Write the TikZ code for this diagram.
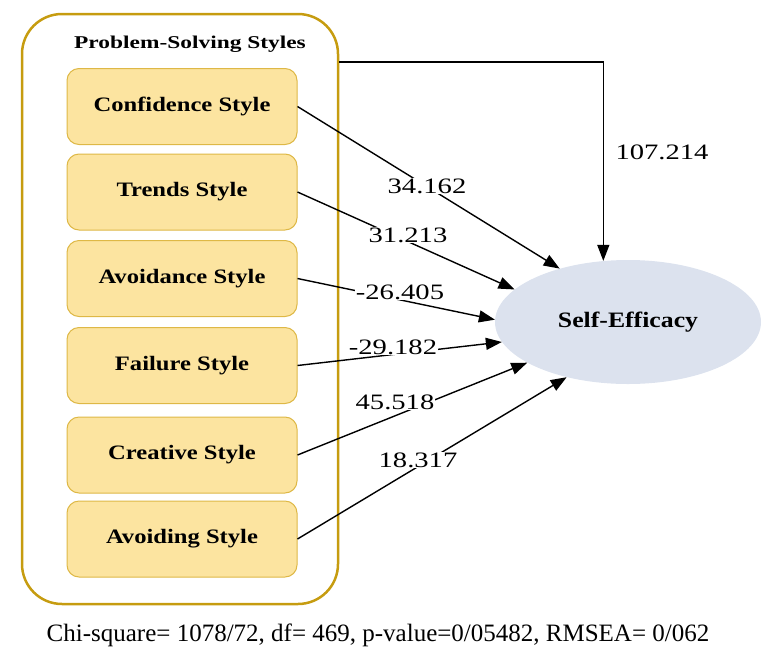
\documentclass[tikz,border=0pt]{standalone}
\usepackage{fontspec}
\setmainfont{Liberation Serif}
\newfontfamily\titlef[FakeStretch=1.3]{Liberation Serif}
\newfontfamily\boxf[FakeStretch=1.2]{Liberation Serif}
\newfontfamily\numf[FakeStretch=1.3]{Liberation Serif}
\newfontfamily\sef[FakeStretch=1.17]{Liberation Serif}
\usetikzlibrary{arrows.meta,shapes.geometric}
\definecolor{goldline}{RGB}{198,156,16}
\definecolor{boxfill}{RGB}{252,228,160}
\definecolor{boxborder}{RGB}{222,184,70}
\definecolor{ellfill}{RGB}{220,226,238}
\tikzset{
  stylebox/.style={rectangle, rounded corners=12pt, minimum width=230pt, minimum height=76pt,
    draw=boxborder, fill=boxfill, line width=1pt, inner sep=0pt,
    font=\boxf\fontsize{20.5}{22}\selectfont\bfseries},
  conn/.style={line width=1.4pt, -{Triangle[length=16pt,width=12pt]}},
  lab/.style={fill=white, inner sep=1pt, font=\numf\fontsize{22}{24}\selectfont}
}
\begin{document}
\begin{tikzpicture}[x=1pt,y=-1pt]
\useasboundingbox (0,0) rectangle (763,646);
% outer group
\node[draw=goldline, line width=2.5pt, rounded corners=40pt, minimum width=316pt, minimum height=590pt, inner sep=0pt] (psb) at (180,309) {};
\node[font=\titlef\fontsize{18}{20}\selectfont\bfseries] (title) at (190,44) {Problem-Solving Styles};
% style boxes
\node[stylebox] (b1) at (182,106.5) {Confidence Style};
\node[stylebox] (b2) at (182,192) {Trends Style};
\node[stylebox] (b3) at (182,278.5) {Avoidance Style};
\node[stylebox] (b4) at (182,365.5) {Failure Style};
\node[stylebox] (b5) at (182,455) {Creative Style};
\node[stylebox] (b6) at (182,539) {Avoiding Style};
% self-efficacy
\node[ellipse, fill=ellfill, minimum width=266pt, minimum height=124pt, inner sep=0pt,
  font=\sef\fontsize{22}{24}\selectfont\bfseries] (se) at (628,322) {Self-Efficacy};
% connectors
\coordinate (c1) at (603,62);
\draw[conn] (psb.east |- c1) -| (se.112.3);
\draw[conn] (b1.east) -- (se.142.6);
\draw[conn] (b2.east) -- (se.164.2);
\draw[conn] (b3.east) -- (se.179);
\draw[conn] (b4.east) -- (se.189.9);
\draw[conn] (b5.east) -- (se.202.6);
\draw[conn] (b6.east) -- (se.222);
% labels
\node[lab] (l0) at (662,152) {107.214};
\node[lab] (l1) at (427,186) {34.162};
\node[lab] (l2) at (408,235) {31.213};
\node[lab] (l3) at (400,292) {-26.405};
\node[lab] (l4) at (393,347) {-29.182};
\node[lab] (l5) at (395,402) {45.518};
\node[lab] (l6) at (418,460) {18.317};
% fit statistics
\node[anchor=base, font=\fontsize{25}{27}\selectfont, inner sep=0pt] (fit) at (378,641) {Chi-square= 1078/72, df= 469, p-value=0/05482, RMSEA= 0/062};
\end{tikzpicture}
\end{document}
